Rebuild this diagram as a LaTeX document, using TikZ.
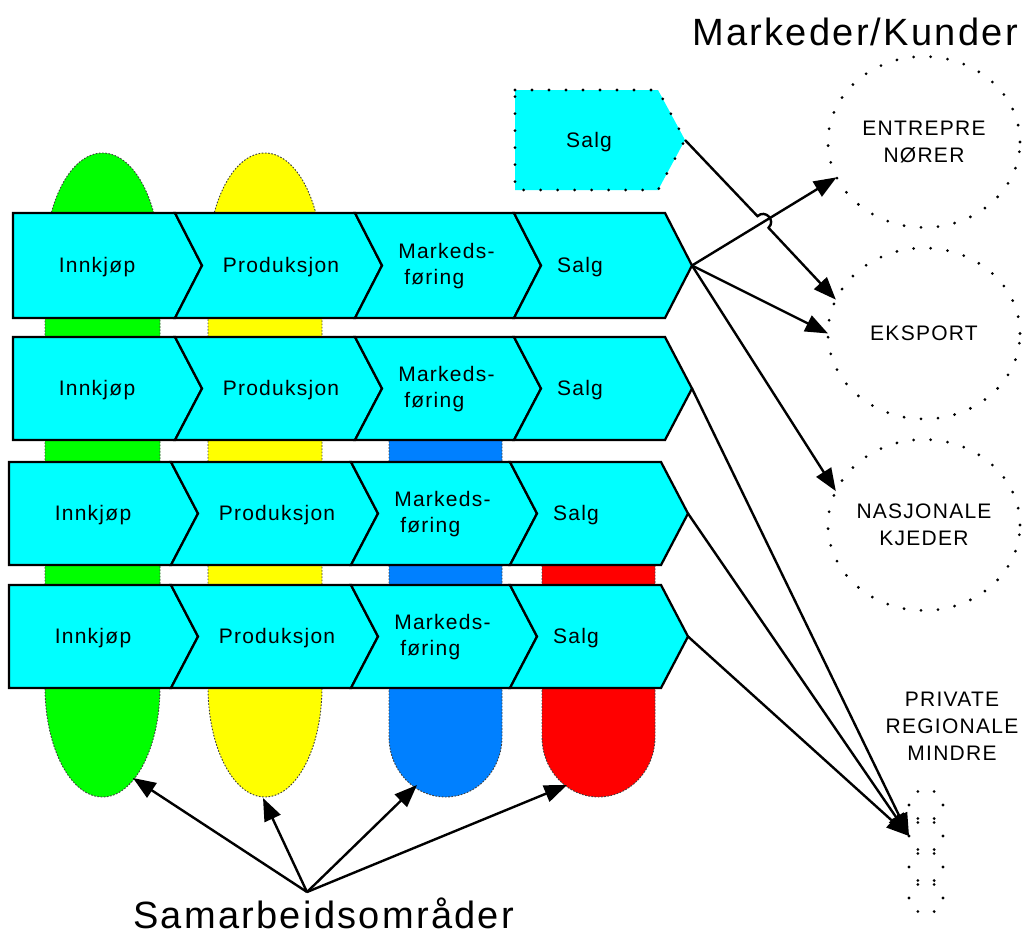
\documentclass[tikz,border=0pt]{standalone}
\usepackage{fontspec}
\setmainfont{Liberation Sans}
\newfontfamily\labfont[LetterSpace=6]{Liberation Sans}
\newfontfamily\bigfont[LetterSpace=6]{Liberation Sans}
\usetikzlibrary{arrows.meta,shapes.geometric}

\definecolor{chevcyan}{HTML}{00FFFF}
\definecolor{zgreen}{HTML}{00FF00}
\definecolor{zyellow}{HTML}{FFFF00}
\definecolor{zblue}{HTML}{0080FF}
\definecolor{zred}{HTML}{FF0000}

\tikzset{
  zone/.style={draw=black!75, line width=0.7pt, dash pattern=on 1.2pt off 1.2pt},
  chevron/.style={draw=black, fill=chevcyan, line width=1.7pt, line join=miter},
  dots/.style={draw=black, line width=2.3pt, line cap=round, dash pattern=on 0pt off 12.75pt},
  lab/.style={font=\labfont\fontsize{15.75}{19.5}\selectfont, inner sep=0pt},
  biglab/.style={font=\bigfont\fontsize{28.5}{34}\selectfont, inner sep=0pt},
  market/.style={ellipse, dots, minimum width=144pt, minimum height=128.25pt,
    inner sep=0pt, outer sep=0pt, align=center,
    font=\labfont\fontsize{15.75}{20.25}\selectfont},
  smallmarket/.style={ellipse, dots, minimum width=25.5pt, minimum height=23.25pt,
    inner sep=0pt, outer sep=0pt},
  arr/.style={draw=black, line width=1.8pt, -{Triangle[length=17pt,width=13pt]}}
}

\begin{document}
\begin{tikzpicture}[x=0.75pt,y=-0.75pt]
\useasboundingbox (0,0) rectangle (1023,935);

% cooperation zones behind the value chains
\path[zone, fill=zgreen] (45,263)
  arc[start angle=180, end angle=360, x radius=57.5, y radius=110]
  -- (160,687)
  arc[start angle=0, end angle=180, x radius=57.5, y radius=110] -- cycle;
\path[zone, fill=zyellow] (208,263)
  arc[start angle=180, end angle=360, x radius=57, y radius=110]
  -- (322,687)
  arc[start angle=0, end angle=180, x radius=57, y radius=110] -- cycle;
\path[zone, fill=zblue] (389,390) -- (502,390) -- (502,737)
  arc[start angle=0, end angle=180, x radius=56.5, y radius=60] -- cycle;
\path[zone, fill=zred] (542,515) -- (655,515) -- (655,737)
  arc[start angle=0, end angle=180, x radius=56.5, y radius=60] -- cycle;

% four value chains
\foreach \T/\B/\s/\n in {213/318/0/1, 337/440/0/2, 462/565/-4/3, 585/688/-4/4}{
  \pgfmathsetmacro{\M}{(\T+\B)/2}
  \pgfmathsetmacro{\xa}{13+\s}
  \pgfmathsetmacro{\xb}{175+\s}
  \pgfmathsetmacro{\xbb}{202+\s}
  \pgfmathsetmacro{\xc}{355+\s}
  \pgfmathsetmacro{\xcc}{382+\s}
  \pgfmathsetmacro{\xd}{514+\s}
  \pgfmathsetmacro{\xdd}{541+\s}
  \pgfmathsetmacro{\xe}{665+\s}
  \pgfmathsetmacro{\xee}{692+\s}
  \path[chevron] (\xa,\T) -- (\xb,\T) -- (\xbb,\M) -- (\xb,\B) -- (\xa,\B) -- cycle;
  \path[chevron] (\xb,\T) -- (\xc,\T) -- (\xcc,\M) -- (\xc,\B) -- (\xb,\B) -- (\xbb,\M) -- cycle;
  \path[chevron] (\xc,\T) -- (\xd,\T) -- (\xdd,\M) -- (\xd,\B) -- (\xc,\B) -- (\xcc,\M) -- cycle;
  \path[chevron] (\xd,\T) -- (\xe,\T) -- (\xee,\M) -- (\xe,\B) -- (\xd,\B) -- (\xdd,\M) -- cycle;
  \coordinate (tip\n) at (\xee,\M);
  \pgfmathsetmacro{\ta}{97+\s}
  \pgfmathsetmacro{\tb}{281+\s}
  \pgfmathsetmacro{\tc}{398+\s}
  \pgfmathsetmacro{\td}{580+\s}
  \pgfmathsetmacro{\bl}{\M+7}
  \pgfmathsetmacro{\ml}{\M+0.5}
  \node[lab, anchor=base] (ink\n) at (\ta,\bl) {Innkjøp};
  \node[lab, anchor=base] (prod\n) at (\tb,\bl) {Produksjon};
  \node[lab, anchor=west, align=left] (mf\n) at (\tc,\ml) {Markeds-\\\hspace{4.5pt}føring};
  \node[lab, anchor=base] (salg\n) at (\td,\bl) {Salg};
}

% separate sales unit
\path[fill=chevcyan, dots] (515,90) -- (658,90) -- (685,140) -- (658,190) -- (515,190) -- cycle;
\node[lab, anchor=base] (salg0) at (589,147) {Salg};
\coordinate (st) at (685,140);

% markets
\node[biglab, anchor=base west] (mk) at (692,45) {Markeder/Kunder};
\node[market] (ent) at (924,142) {ENTREPRE\\NØRER};
\node[market] (eks) at (924,333.5) {EKSPORT};
\node[market] (nas) at (924,525) {NASJONALE\\KJEDER};
\node[lab, align=center, font=\labfont\fontsize{15.75}{20.25}\selectfont] (priv) at (952,726.5) {PRIVATE\\REGIONALE\\MINDRE};
\node[smallmarket] (sm1) at (926,805) {};
\node[smallmarket] (sm2) at (926,836) {};
\node[smallmarket] (sm3) at (926,867) {};
\node[smallmarket] (sm4) at (926,898) {};

% line hop where two connectors cross
\coordinate (hopA) at (757.5,216.2);
\coordinate (hopC1) at (765.2,208.9);
\coordinate (hopC2) at (776.2,220.5);
\coordinate (hopB) at (768.5,227.8);

\draw[arr] (st) -- (hopA) .. controls (hopC1) and (hopC2) .. (hopB) -- (eks.159);
\draw[arr] (tip1) -- (ent.202);
\draw[arr] (tip1) -- (eks.west);
\draw[arr] (tip1) -- (nas.159);
\draw[arr] (tip2) -- (sm2.west);
\draw[arr] (tip3) -- (sm2.west);
\draw[arr] (tip4) -- (sm2.west);

% cooperation areas
\node[biglab, anchor=base west] (sam) at (133,928) {Samarbeidsområder};
\coordinate (src) at (307,892);
\coordinate (gtip) at (133,778);
\coordinate (ytip) at (263,798);
\coordinate (btip) at (417,785);
\coordinate (rtip) at (567,785);
\draw[arr] (src) -- (gtip);
\draw[arr] (src) -- (ytip);
\draw[arr] (src) -- (btip);
\draw[arr] (src) -- (rtip);
\end{tikzpicture}
\end{document}
